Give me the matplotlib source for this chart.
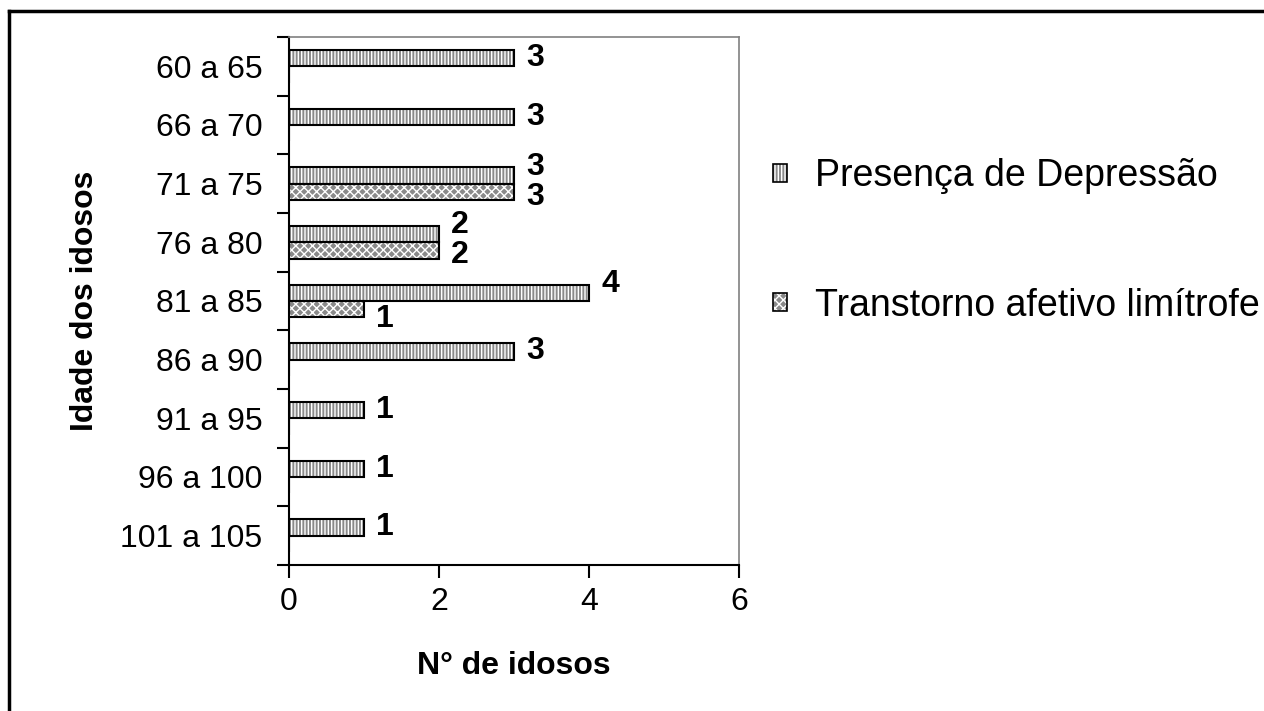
import matplotlib
matplotlib.use("Agg")
import matplotlib.pyplot as plt
from matplotlib.lines import Line2D
from matplotlib.patches import Patch
import numpy as np

plt.rcParams['font.family'] = ['Liberation Sans', 'DejaVu Sans']
plt.rcParams['hatch.linewidth'] = 1.0

categories = ["60 a 65", "66 a 70", "71 a 75", "76 a 80", "81 a 85",
              "86 a 90", "91 a 95", "96 a 100", "101 a 105"]
depressao = [3, 3, 3, 2, 4, 3, 1, 1, 1]
limitrofe = [0, 0, 3, 2, 1, 0, 0, 0, 0]
series_names = ["Presença de Depressão", "Transtorno afetivo limítrofe"]
xticks = [0, 2, 4, 6]

fig = plt.figure(figsize=(12.64, 7.11), dpi=100)
ax = fig.add_axes([289 / 1264, 1 - 565 / 711, 450 / 1264, 528 / 711])

y = np.arange(len(categories))
h = 0.28
fill = '#8a8a8a'
hatches = ['|||||', 'xxxx']
FS = 23

handles = []
for k, (vals, other, offset) in enumerate([(depressao, limitrofe, -h / 2),
                                           (limitrofe, depressao, h / 2)]):
    ax.barh(y + offset, vals, height=h, color=fill, edgecolor='white',
            linewidth=0, hatch=hatches[k], zorder=2)
    ax.barh(y + offset, vals, height=h, fill=False, edgecolor='black',
            linewidth=1.5, zorder=3)
    for yi, v, o in zip(y, vals, other):
        if v <= 0:
            continue
        # nudge paired labels apart so they do not collide
        if k == 0:
            dy = -0.15 if o > 0 else 0.0
        else:
            dy = 0.08 if o == v else 0.17
        ax.text(v + 0.16, yi + offset + dy, f"{v}", fontsize=FS,
                fontweight='bold', ha='left', va='center', zorder=4)
    handles.append((Patch(facecolor=fill, edgecolor='white', hatch=hatches[k], linewidth=0),
                    Patch(fill=False, edgecolor='black', linewidth=1.2)))

ax.set_xlim(0, 6)
ax.set_ylim(len(categories) - 0.5, -0.5)
ax.set_xticks(xticks)
ax.set_xticklabels([str(t) for t in xticks], fontsize=FS)
ax.tick_params(axis='x', direction='out', length=9, width=1.5, pad=7)

ax.set_yticks(y)
ax.set_yticklabels(categories, fontsize=FS)
ax.tick_params(axis='y', which='major', length=0, pad=19)
ax.set_yticks(np.arange(len(categories) + 1) - 0.5, minor=True)
ax.tick_params(axis='y', which='minor', direction='out', length=9, width=1.5)

for s in ['left', 'bottom']:
    ax.spines[s].set_color('black')
    ax.spines[s].set_linewidth(1.5)
for s in ['top', 'right']:
    ax.spines[s].set_color('#808080')
    ax.spines[s].set_linewidth(1.2)

ax.set_xlabel("N° de idosos", fontsize=FS, fontweight='bold', labelpad=24)
ax.set_ylabel("Idade dos idosos", fontsize=FS, fontweight='bold', labelpad=15)

fig.legend(handles, series_names, loc='upper left',
           bbox_to_anchor=(758 / 1264, 1 - 143 / 711), frameon=False,
           fontsize=27, handlelength=0.36, handleheight=0.36,
           handletextpad=0.75, labelspacing=2.5, borderaxespad=0)

# outer frame: top and left edges
fig.add_artist(Line2D([9 / 1264, 1], [1 - 11 / 711, 1 - 11 / 711],
                      color='black', linewidth=2.5, transform=fig.transFigure))
fig.add_artist(Line2D([9 / 1264, 9 / 1264], [0, 1 - 11 / 711],
                      color='black', linewidth=2.5, transform=fig.transFigure))

fig.savefig("out.png", dpi=100)
